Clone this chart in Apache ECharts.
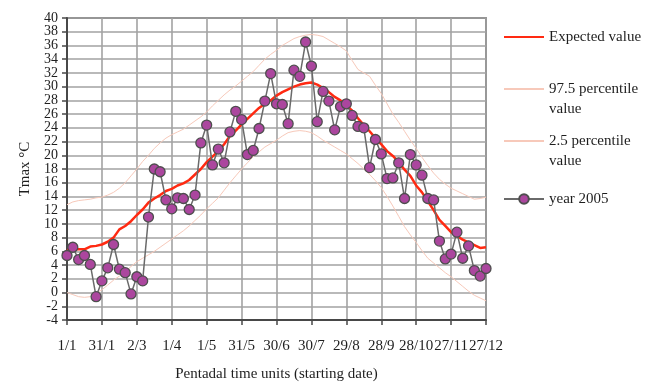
<!DOCTYPE html>
<html>
<head>
<meta charset="utf-8">
<script src="https://cdn.jsdelivr.net/npm/echarts@6/dist/echarts.min.js"></script>
<style>
  html, body { margin: 0; padding: 0; background: #fff; }
  #chart { width: 657px; height: 387px; }
</style>
</head>
<body>
<div id="chart"></div>
<script>
// Pentad start dates for 2005 (73 pentads, day 1, 6, 11, ...)
const pentadStarts = Array.from({ length: 73 }, (_, i) => {
  const d = new Date(Date.UTC(2005, 0, 1 + 5 * i));
  return d.getUTCDate() + '/' + (d.getUTCMonth() + 1);
});

// Expected value of Tmax per pentad (°C)
const expectedValue = [
  6.2, 6.3, 6.3, 6.3, 6.7, 6.8, 7.0, 7.4, 8.0, 9.2,
  9.7, 10.4, 11.3, 12.1, 13.1, 13.7, 14.2, 14.8, 15.1, 15.6,
  15.9, 16.4, 17.2, 18.0, 19.0, 19.8, 20.6, 21.6, 22.8, 23.6,
  24.5, 25.3, 26.1, 26.9, 27.5, 28.0, 28.7, 29.2, 29.6, 30.0,
  30.3, 30.5, 30.6, 30.3, 29.8, 29.2, 28.5, 28.0, 27.3, 26.5,
  25.4, 24.4, 23.5, 22.5, 21.6, 20.6, 19.9, 19.0, 17.9, 17.0,
  15.6, 14.6, 13.3, 12.0, 10.6, 9.7, 8.8, 8.2, 7.7, 7.3,
  6.9, 6.5, 6.6
];

// 97.5 percentile of Tmax per pentad (°C)
const upperPercentile = [
  12.8, 13.2, 13.4, 13.5, 13.6, 13.8, 13.9, 14.2, 14.6, 15.2,
  16.0, 17.0, 18.0, 19.1, 20.0, 21.0, 21.8, 22.5, 23.0, 23.4,
  23.8, 24.4, 25.0, 25.6, 26.3, 27.2, 28.0, 28.8, 29.5, 30.1,
  30.8, 31.5, 32.2, 33.1, 34.0, 34.7, 35.3, 36.0, 36.5, 37.0,
  37.3, 37.5, 37.6, 37.5, 37.3, 36.8, 36.3, 35.8, 35.2, 33.8,
  32.5, 32.0, 31.5, 30.2, 29.0, 27.5, 26.0, 24.8, 23.5, 22.2,
  21.0, 19.7, 18.5, 17.4, 16.5, 15.8, 15.2, 14.8, 14.4, 14.0,
  13.6, 13.7, 13.9
];

// 2.5 percentile of Tmax per pentad (°C)
const lowerPercentile = [
  0.0, -0.3, -0.6, -0.7, -0.6, -0.1, 0.4, 1.1, 1.8, 2.4,
  3.0, 3.8, 4.5, 5.0, 5.5, 6.0, 6.6, 7.2, 7.8, 8.4,
  9.0, 9.7, 10.5, 11.3, 12.2, 13.0, 13.8, 14.9, 16.0, 17.0,
  18.0, 18.9, 19.8, 20.5, 21.2, 21.7, 22.2, 22.8, 23.3, 23.5,
  23.6, 23.5, 23.3, 22.8, 22.2, 21.7, 21.2, 20.7, 20.2, 19.5,
  18.8, 18.0, 17.2, 16.3, 15.3, 14.0, 12.6, 11.1, 9.6, 8.4,
  7.3, 6.1, 5.0, 4.3, 3.6, 2.9, 2.3, 1.6, 0.9, 0.2,
  -0.4, -0.8, -1.2
];

// Observed pentadal Tmax, year 2005 (°C)
const year2005 = [
  5.4, 6.6, 4.8, 5.4, 4.1, -0.6, 1.7, 3.6, 7.0, 3.4,
  2.9, -0.2, 2.3, 1.7, 11.0, 18.0, 17.6, 13.5, 12.2, 13.8,
  13.7, 12.1, 14.2, 21.8, 24.4, 18.6, 20.9, 18.9, 23.4, 26.4,
  25.2, 20.1, 20.7, 23.9, 27.9, 31.9, 27.5, 27.4, 24.6, 32.4,
  31.5, 36.5, 33.0, 24.9, 29.3, 27.9, 23.7, 27.1, 27.5, 25.8,
  24.2, 24.0, 18.2, 22.3, 20.2, 16.6, 16.7, 18.9, 13.7, 20.1,
  18.6, 17.1, 13.7, 13.5, 7.5, 4.9, 5.6, 8.8, 5.0, 6.8,
  3.2, 2.4, 3.5
];

// Temperature scale (°C)
const Y_MIN = -4;
const Y_MAX = 40;
const Y_STEP = 2;

const FONT = "'Liberation Serif', 'Times New Roman', serif";
const FONT_SIZE = 15;
const TEXT_COLOR = '#1e1e1e';
const GRID_COLOR = '#a2a2a2';
const FRAME_COLOR = '#484848';

// One legend block per entry; two-line labels keep their first line level with the key line
function legendAt(name, top, twoLine, hideSymbol) {
  const text = twoLine ? '\n' + name.replace(/ (\S+)$/, '\n$1') : name;
  const legend = {
    data: [name],
    left: 503,
    top: top,
    padding: 0,
    orient: 'vertical',
    itemWidth: 40,
    itemHeight: 12,
    itemGap: 0,
    selectedMode: false,
    formatter: () => text,
    textStyle: {
      fontFamily: FONT,
      fontSize: FONT_SIZE,
      color: TEXT_COLOR,
      lineHeight: 20
    }
  };
  if (hideSymbol) legend.itemStyle = { opacity: 0 };
  return legend;
}

const yLabelStyle = { margin: 9, fontFamily: FONT, fontSize: 14, color: TEXT_COLOR };

const chart = echarts.init(document.getElementById('chart'), null, { renderer: 'canvas' });

chart.setOption({
  animation: false,
  backgroundColor: '#ffffff',
  grid: {
    left: 67, right: 171, top: 18, bottom: 55,
    show: true, borderColor: FRAME_COLOR, borderWidth: 1.5
  },
  legend: [
    legendAt('Expected value', 27, false, true),
    legendAt('97.5 percentile value', 59, true, true),
    legendAt('2.5 percentile value', 111, true, true),
    legendAt('year 2005', 189, false, false)
  ],
  xAxis: {
    type: 'category',
    data: pentadStarts,
    boundaryGap: false,
    name: 'Pentadal time units (starting date)',
    nameLocation: 'middle',
    nameGap: 47,
    nameTextStyle: { fontFamily: FONT, fontSize: FONT_SIZE, color: TEXT_COLOR },
    axisLine: { onZero: false, lineStyle: { color: FRAME_COLOR, width: 2 } },
    axisTick: { interval: 5, length: 5, lineStyle: { color: FRAME_COLOR, width: 1.5 } },
    axisLabel: {
      interval: 5, margin: 19, hideOverlap: false,
      fontFamily: FONT, fontSize: FONT_SIZE, color: TEXT_COLOR
    },
    splitLine: { show: true, interval: 5, lineStyle: { color: GRID_COLOR, width: 1.6 } }
  },
  yAxis: [
    {
      // main temperature axis: inner tick values, grid lines and axis title
      type: 'value',
      min: Y_MIN, max: Y_MAX, interval: Y_STEP,
      name: 'Tmax °C',
      nameLocation: 'middle',
      nameGap: 34,
      nameTextStyle: { fontFamily: FONT, fontSize: FONT_SIZE, color: TEXT_COLOR },
      axisLine: { show: true, lineStyle: { color: FRAME_COLOR, width: 2 } },
      axisTick: { show: true, length: 5, lineStyle: { color: FRAME_COLOR, width: 1.5 } },
      axisLabel: Object.assign({ showMinLabel: false, showMaxLabel: false }, yLabelStyle),
      splitLine: { show: true, lineStyle: { color: GRID_COLOR, width: 1.6 } }
    },
    {
      // companion axis on the same scale carrying the two end values
      type: 'value',
      position: 'left',
      min: Y_MIN, max: Y_MAX, interval: Y_MAX - Y_MIN,
      axisLine: { show: false },
      axisTick: { show: true, length: 5, lineStyle: { color: FRAME_COLOR, width: 1.5 } },
      axisLabel: yLabelStyle,
      splitLine: { show: false }
    }
  ],
  series: [
    {
      name: 'Expected value',
      type: 'line',
      data: expectedValue,
      symbol: 'none',
      z: 3,
      lineStyle: { color: '#ff2a12', width: 2.5 },
      itemStyle: { color: '#ff2a12' }
    },
    {
      name: '97.5 percentile value',
      type: 'line',
      data: upperPercentile,
      symbol: 'none',
      z: 2,
      lineStyle: { color: '#f7c9ba', width: 1 },
      itemStyle: { color: '#f7c9ba' }
    },
    {
      name: '2.5 percentile value',
      type: 'line',
      data: lowerPercentile,
      symbol: 'none',
      z: 2,
      lineStyle: { color: '#f7c9ba', width: 1 },
      itemStyle: { color: '#f7c9ba' }
    },
    {
      name: 'year 2005',
      type: 'line',
      data: year2005,
      symbol: 'circle',
      symbolSize: 10,
      showAllSymbol: true,
      z: 4,
      lineStyle: { color: '#6a6a6a', width: 1.5 },
      itemStyle: { color: '#ab469e', borderColor: '#4e4e4e', borderWidth: 1.3 }
    }
  ]
});
</script>
</body>
</html>
